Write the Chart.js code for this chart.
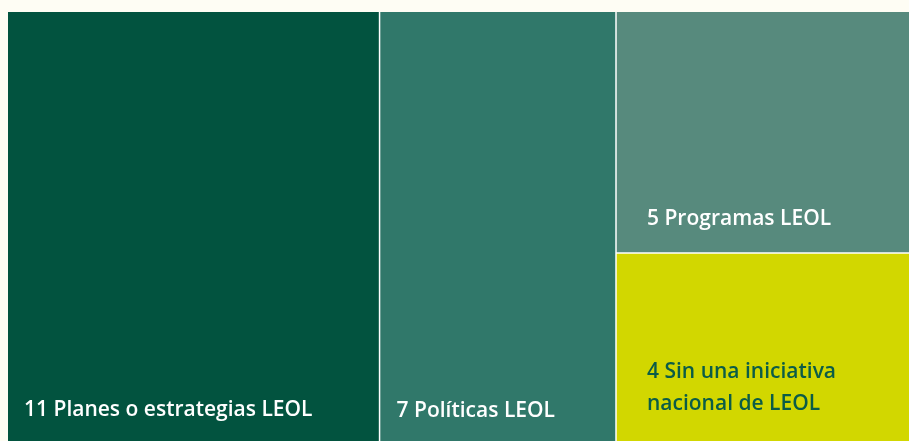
<!DOCTYPE html>
<html>
<head>
<meta charset="utf-8">
<script src="https://cdn.jsdelivr.net/npm/chart.js@4"></script>
<style>
  html, body { margin: 0; padding: 0; background: #fefdf4; overflow: hidden; }
  #wrap { width: 920px; height: 446px; position: relative; }
</style>
</head>
<body>
<div id="wrap"><canvas id="treemap"></canvas></div>
<script>
// datos del treemap
const categories = ['Planes o estrategias LEOL', 'Políticas LEOL', 'Programas LEOL', 'Sin una iniciativa\nnacional de LEOL'];
const counts = [11, 7, 5, 4];
const columnOf = [0, 1, 2, 2];

const colors = ['#02533f', '#30786a', '#578a7d', '#d2d700'];
const textColors = ['#ffffff', '#ffffff', '#ffffff', '#0b5c47'];
const labelPad = [16, 17, 31, 31];
const labelBottom = [36, 35, 34, 42];

// build cells: columns side by side, cells stacked top-down within a column
const total = counts.reduce((a, b) => a + b, 0);
const colSums = [];
columnOf.forEach((c, i) => { colSums[c] = (colSums[c] || 0) + counts[i]; });
const cells = [];
let xStart = 0;
colSums.forEach((sum, c) => {
  let yTop = 1;
  counts.forEach((v, i) => {
    if (columnOf[i] !== c) return;
    const h = v / sum;
    cells.push({ i, x0: xStart, x1: xStart + sum, y0: yTop - h, y1: yTop });
    yTop -= h;
  });
  xStart += sum;
});

const datasets = cells.map(c => ({
  label: categories[c.i],
  data: [{ x: c.x0, y: c.y1 }, { x: c.x1, y: c.y1 }],
  fill: { value: c.y0 },
  backgroundColor: colors[c.i],
  borderWidth: 0,
  pointRadius: 0
}));

const cellPlugin = {
  id: 'cellPlugin',
  afterDatasetsDraw(chart) {
    const { ctx, scales: { x, y } } = chart;
    ctx.save();
    // white separators
    ctx.strokeStyle = '#ffffff';
    ctx.lineWidth = 1.5;
    cells.forEach(c => {
      const px0 = x.getPixelForValue(c.x0);
      const px1 = x.getPixelForValue(c.x1);
      const pyTop = y.getPixelForValue(c.y1);
      const pyBot = y.getPixelForValue(c.y0);
      ctx.beginPath();
      if (c.x0 > 0) { ctx.moveTo(px0, pyTop); ctx.lineTo(px0, pyBot); }
      if (c.y1 < 1) { ctx.moveTo(px0, pyTop); ctx.lineTo(px1, pyTop); }
      ctx.stroke();
    });
    // labels
    ctx.font = '600 21px "Open Sans"';
    ctx.textBaseline = 'middle';
    ctx.textAlign = 'left';
    cells.forEach(c => {
      const lines = (counts[c.i] + ' ' + categories[c.i]).split('\n');
      const px0 = x.getPixelForValue(c.x0) + labelPad[c.i];
      const pyBot = y.getPixelForValue(c.y0) - labelBottom[c.i];
      ctx.fillStyle = textColors[c.i];
      lines.forEach((t, k) => {
        ctx.fillText(t, px0, pyBot - (lines.length - 1 - k) * 32);
      });
    });
    ctx.restore();
  }
};

new Chart(document.getElementById('treemap'), {
  type: 'line',
  data: { datasets },
  options: {
    responsive: true,
    maintainAspectRatio: false,
    animation: false,
    layout: { padding: { left: 8, top: 12, right: 0, bottom: 0 } },
    scales: {
      x: { type: 'linear', min: 0, max: total, display: false },
      y: { type: 'linear', min: 0, max: 1, display: false }
    },
    plugins: {
      legend: { display: false },
      tooltip: { enabled: false }
    }
  },
  plugins: [cellPlugin]
});
</script>
</body>
</html>
